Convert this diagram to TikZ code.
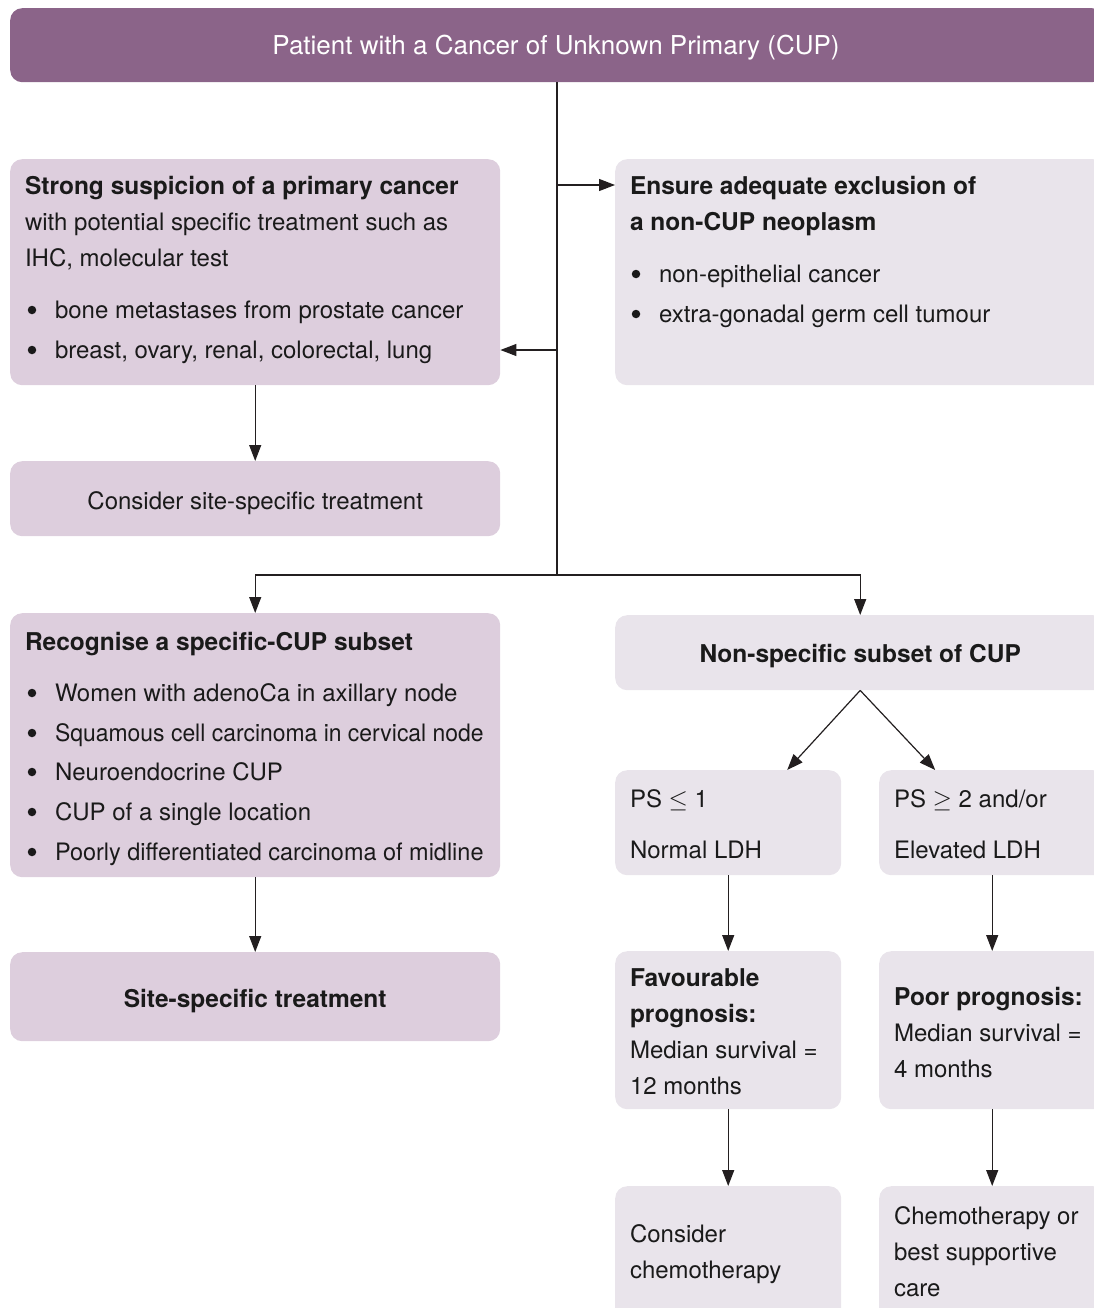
\documentclass[tikz,border=0pt]{standalone}
\usepackage{fontspec}
\usepackage{graphicx}
\setmainfont{TeX Gyre Heros}
\usetikzlibrary{arrows.meta}
\definecolor{hdrcol}{HTML}{8B6489}
\definecolor{lilac}{HTML}{DDCEDD}
\definecolor{greyl}{HTML}{E9E4EB}
\definecolor{ink}{HTML}{1A1A1A}
\definecolor{linec}{HTML}{231F20}
\newcommand\bft{\fontsize{24.5pt}{26pt}\selectfont\bfseries}
\tikzset{
  box/.style={rectangle, rounded corners=12pt, draw=none, inner sep=0pt, anchor=north west},
  lbox/.style={box, fill=lilac},
  rbox/.style={box, fill=greyl},
  txt/.style={inner sep=0pt, outer sep=0pt, text=ink, font=\fontsize{24pt}{26pt}\selectfont},
  dot/.style={circle, fill=ink, inner sep=0pt, minimum size=8.5pt},
  arr/.style={draw=linec, line width=1.2pt, -{Triangle[length=16pt,width=12pt]}},
  ln/.style={draw=linec, line width=1.2pt},
}
\newcommand\tline[4]{\node[txt,anchor=base west] (#1) at (#2,#3) {#4};}
\newcommand\bline[4]{\node[dot] (#1b) at (#2,#3-8) {};\node[txt,anchor=base west] (#1) at (#2+23,#3) {#4};}
\begin{document}
\begin{tikzpicture}[x=1pt,y=-1pt]
\useasboundingbox (0,0) rectangle (1094,1308);
\clip (0,0) rectangle (1094,1308);
% header
\node[box, fill=hdrcol, minimum width=1094pt, minimum height=74pt] (hdr) at (10,8) {};
\node[txt, text=white, font=\fontsize{26pt}{28pt}\selectfont, anchor=base] (hdrt) at (556,55) {Patient with a Cancer of Unknown Primary (CUP)};
% boxes
\node[lbox, minimum width=490pt, minimum height=226pt] (A) at (10,159) {};
\node[rbox, minimum width=490pt, minimum height=226pt] (B) at (615,159) {};
\node[lbox, minimum width=490pt, minimum height=75pt] (C) at (10,461) {};
\node[lbox, minimum width=490pt, minimum height=264pt] (D) at (10,613) {};
\node[rbox, minimum width=490pt, minimum height=75pt] (E) at (615,615) {};
\node[rbox, minimum width=226pt, minimum height=105pt] (F) at (615,770) {};
\node[rbox, minimum width=226pt, minimum height=105pt] (G) at (879,770) {};
\node[rbox, minimum width=226pt, minimum height=158pt] (H) at (615,951) {};
\node[rbox, minimum width=226pt, minimum height=158pt] (I) at (879,951) {};
\node[lbox, minimum width=490pt, minimum height=89pt] (J) at (10,952) {};
\node[rbox, minimum width=226pt, minimum height=160pt] (K) at (615,1186) {};
\node[rbox, minimum width=226pt, minimum height=160pt] (L) at (879,1186) {};
% texts A
\tline{a1}{25}{194}{\bft Strong suspicion of a primary cancer}
\tline{a2}{25}{230}{with potential specific treatment such as}
\tline{a3}{25}{266}{IHC, molecular test}
\bline{a4}{32}{318}{bone metastases from prostate cancer}
\bline{a5}{32}{358}{breast, ovary, renal, colorectal, lung}
% texts B
\tline{b1}{630}{194}{\bft Ensure adequate exclusion of}
\tline{b2}{630}{230}{\bft a non-CUP neoplasm}
\bline{b3}{636}{282}{non-epithelial cancer}
\bline{b4}{636}{322}{extra-gonadal germ cell tumour}
% C
\node[txt, anchor=base] (c1) at (C.center |- 0,509) {Consider site-specific treatment};
% D
\tline{d1}{25}{650}{\bft Recognise a specific-CUP subset}
\bline{d2}{32}{701}{Women with adenoCa in axillary node}
\bline{d3}{32}{741}{\scalebox{0.955}[1]{Squamous cell carcinoma in cervical node}}
\bline{d4}{32}{780}{Neuroendocrine CUP}
\bline{d5}{32}{820}{CUP of a single location}
\bline{d6}{32}{860}{\scalebox{0.978}[1]{Poorly differentiated carcinoma of midline}}
% E
\node[txt, anchor=base] (e1) at (E.center |- 0,662) {\bft Non-specific subset of CUP};
% F, G
\tline{f1}{630}{807}{PS $\leq$ 1}
\tline{f2}{630}{858}{Normal LDH}
\tline{g1}{894}{807}{PS $\geq$ 2 and/or}
\tline{g2}{894}{858}{Elevated LDH}
% H, I
\tline{h1}{630}{986}{\bft Favourable}
\tline{h2}{630}{1022}{\bft prognosis:}
\tline{h3}{630}{1058}{Median survival =}
\tline{h4}{630}{1094}{12 months}
\tline{i1}{894}{1005}{\bft Poor prognosis:}
\tline{i2}{894}{1041}{Median survival =}
\tline{i3}{894}{1077}{4 months}
% J
\node[txt, anchor=base] (j1t) at (J.center |- 0,1007) {\bft Site-specific treatment};
% K, L
\tline{k1}{630}{1242}{Consider}
\tline{k2}{630}{1278}{chemotherapy}
\tline{l1}{894}{1224}{Chemotherapy or}
\tline{l2}{894}{1260}{best supportive}
\tline{l3}{894}{1296}{care}
% connectors
\coordinate (tr) at (557,575);
\coordinate (jr) at (557,185);
\coordinate (jl) at (557,350);
\draw[ln] (hdr.south -| tr) -- (tr);
\draw[arr] (jr) -- (B.west |- jr);
\draw[arr] (jl) -- (A.east |- jl);
\draw[arr] (A.south) -- (C.north);
\draw[arr] (tr) -| (D.north);
\draw[arr] (tr) -| (E.north);
\draw[arr] (E.south) -- ([xshift=59pt]F.north);
\draw[arr] (E.south) -- ([xshift=-57pt]G.north);
\draw[arr] (F.south) -- (H.north);
\draw[arr] (G.south) -- (I.north);
\draw[arr] (D.south) -- (J.north);
\draw[arr] (H.south) -- (K.north);
\draw[arr] (I.south) -- (L.north);
\end{tikzpicture}
\end{document}
